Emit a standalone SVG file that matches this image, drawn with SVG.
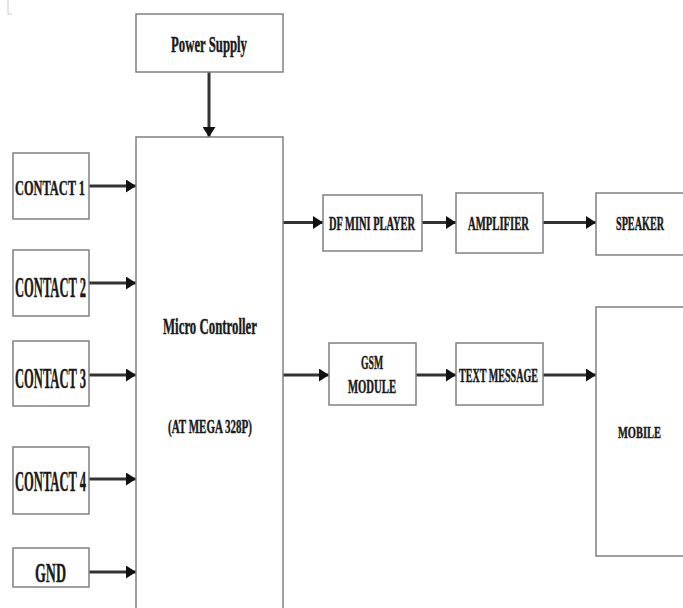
<svg xmlns="http://www.w3.org/2000/svg" width="683" height="608" viewBox="0 0 683 608">
<style>
.box{fill:#fff;stroke:#808080;stroke-width:1.5}
.lbl{font-family:"Liberation Serif","Times New Roman",serif;font-weight:bold;fill:#1a1a1a;stroke:#1a1a1a;stroke-width:0.45;text-anchor:middle}
.con{stroke:#333;stroke-width:3;fill:none}
</style>
<defs>
<marker id="ah" markerUnits="userSpaceOnUse" markerWidth="11" markerHeight="13" refX="10" refY="6.5" orient="auto">
<path d="M0,0 L10,6.5 L0,13 z" fill="#111"/>
</marker>
</defs>
<rect width="683" height="608" fill="#fff"/>
<path d="M8,0 V14 H12" stroke="#ccc" stroke-width="1" fill="none"/>
<g id="connectors">
<line class="con" x1="209" y1="72" x2="209" y2="137" stroke-width="2" marker-end="url(#ah)"/>
<line class="con" x1="89" y1="186" x2="136" y2="186" marker-end="url(#ah)"/>
<line class="con" x1="89" y1="283" x2="136" y2="283" marker-end="url(#ah)"/>
<line class="con" x1="89" y1="375" x2="136" y2="375" marker-end="url(#ah)"/>
<line class="con" x1="89" y1="479" x2="136" y2="479" marker-end="url(#ah)"/>
<line class="con" x1="89" y1="572" x2="136" y2="572" marker-end="url(#ah)"/>
<line class="con" x1="283" y1="222.5" x2="323" y2="222.5" marker-end="url(#ah)"/>
<line class="con" x1="422" y1="222.5" x2="456" y2="222.5" marker-end="url(#ah)"/>
<line class="con" x1="543" y1="222.5" x2="596" y2="222.5" marker-end="url(#ah)"/>
<line class="con" x1="283" y1="375" x2="329" y2="375" marker-end="url(#ah)"/>
<line class="con" x1="416" y1="375" x2="456" y2="375" marker-end="url(#ah)"/>
<line class="con" x1="543" y1="375" x2="596" y2="375" marker-end="url(#ah)"/>
</g>
<g id="power-supply">
<rect class="box" x="136" y="14" width="147" height="58"/>
<text class="lbl" x="209" y="52" font-size="24" textLength="76" lengthAdjust="spacingAndGlyphs">Power Supply</text>
</g>
<g id="micro-controller">
<rect class="box" x="136" y="137" width="147" height="480"/>
<text class="lbl" x="210" y="334" font-size="24" textLength="94" lengthAdjust="spacingAndGlyphs">Micro Controller</text>
<text class="lbl" x="210" y="433" font-size="19" textLength="84" lengthAdjust="spacingAndGlyphs">(AT MEGA 328P)</text>
</g>
<g id="contact-1">
<rect class="box" x="13" y="153" width="76" height="66"/>
<text class="lbl" x="50" y="195" font-size="22" textLength="70" lengthAdjust="spacingAndGlyphs">CONTACT 1</text>
</g>
<g id="contact-2">
<rect class="box" x="13" y="250" width="76" height="66"/>
<text class="lbl" x="50.5" y="297" font-size="29" textLength="71" lengthAdjust="spacingAndGlyphs">CONTACT 2</text>
</g>
<g id="contact-3">
<rect class="box" x="13" y="341" width="76" height="65"/>
<text class="lbl" x="50.5" y="388" font-size="29" textLength="71" lengthAdjust="spacingAndGlyphs">CONTACT 3</text>
</g>
<g id="contact-4">
<rect class="box" x="13" y="447" width="76" height="67"/>
<text class="lbl" x="50.5" y="491" font-size="29" textLength="71" lengthAdjust="spacingAndGlyphs">CONTACT 4</text>
</g>
<g id="gnd">
<rect class="box" x="13" y="548" width="76" height="39"/>
<text class="lbl" x="50.5" y="582" font-size="27" textLength="31" lengthAdjust="spacingAndGlyphs">GND</text>
</g>
<g id="df-mini-player">
<rect class="box" x="323" y="195" width="99" height="56"/>
<text class="lbl" x="372" y="230" font-size="18" textLength="86" lengthAdjust="spacingAndGlyphs">DF MINI PLAYER</text>
</g>
<g id="amplifier">
<rect class="box" x="456" y="193" width="87" height="60"/>
<text class="lbl" x="498.5" y="230" font-size="18" textLength="61" lengthAdjust="spacingAndGlyphs">AMPLIFIER</text>
</g>
<g id="speaker">
<rect class="box" x="596" y="193" width="95" height="62"/>
<text class="lbl" x="640" y="230" font-size="18" textLength="48" lengthAdjust="spacingAndGlyphs">SPEAKER</text>
</g>
<g id="gsm-module">
<rect class="box" x="329" y="343" width="87" height="62"/>
<text class="lbl" x="372" y="369" font-size="18" textLength="22" lengthAdjust="spacingAndGlyphs">GSM</text>
<text class="lbl" x="372" y="393" font-size="18" textLength="48" lengthAdjust="spacingAndGlyphs">MODULE</text>
</g>
<g id="text-message">
<rect class="box" x="456" y="343" width="87" height="62"/>
<text class="lbl" x="498.5" y="382" font-size="18" textLength="79" lengthAdjust="spacingAndGlyphs">TEXT MESSAGE</text>
</g>
<g id="mobile">
<rect class="box" x="596" y="307" width="95" height="249"/>
<text class="lbl" x="639.5" y="438" font-size="16" textLength="43" lengthAdjust="spacingAndGlyphs">MOBILE</text>
</g>
</svg>
